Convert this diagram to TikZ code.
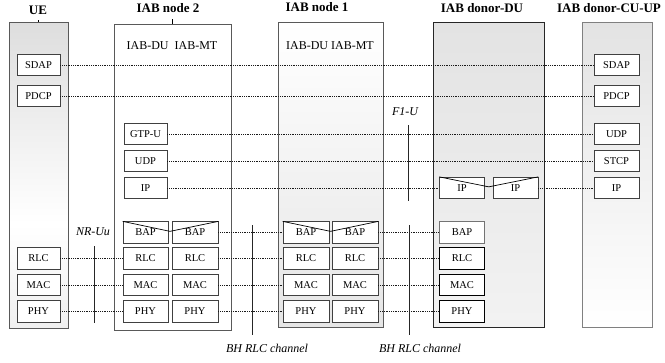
\documentclass[tikz,border=0pt]{standalone}
\usepackage{fontspec}
\setmainfont{Liberation Serif}
\usetikzlibrary{calc}
\pgfdeclareverticalshading{uesh}{100bp}{color(0bp)=(black!6); color(25bp)=(black!6); color(42bp)=(white); color(75bp)=(black!13); color(100bp)=(black!13)}
\begin{document}
\begin{tikzpicture}[x=1pt,y=-1pt,
  cont/.style={draw=black!65, line width=0.8pt, inner sep=0pt},
  blk/.style={draw=black!75, fill=white, line width=0.8pt, minimum height=21.5pt, inner sep=0pt, font=\fontsize{10.5}{12}\selectfont},
  ttl/.style={font=\fontsize{13}{15}\selectfont\bfseries, inner sep=1pt},
  sub/.style={font=\fontsize{12}{14}\selectfont, inner sep=1pt},
  lbl/.style={font=\fontsize{12}{14}\selectfont\itshape, inner sep=1pt},
  dl/.style={line width=0.7pt, black!90, dash pattern=on 1pt off 0.8pt},
  vl/.style={line width=0.7pt, black!85},
  w43/.style={minimum width=43pt},
  w45/.style={minimum width=45pt},
  w46/.style={minimum width=46pt}]
\useasboundingbox (0,0) rectangle (665,362);

% containers
\node[cont, shading=uesh, minimum width=59pt, minimum height=306pt] (ue) at (38.5,175) {};
\node[cont, fill=white, minimum width=117pt, minimum height=306pt] (n2) at (172.5,177) {};
\node[cont, top color=white, bottom color=black!10, minimum width=105pt, minimum height=305pt] (n1) at (330.5,174.5) {};
\node[cont, draw=black!85, top color=black!11, bottom color=black!5, minimum width=111pt, minimum height=305pt] (du) at (488.5,174.5) {};
\node[cont, draw=black!50, top color=black!11, bottom color=white, minimum width=70pt, minimum height=305pt] (cu) at (617,174.5) {};

% titles
\node[ttl] (t-ue) at (38,10) {UE};
\node[ttl] (t-n2) at (168,8) {IAB node 2};
\node[ttl] (t-n1) at (317,7) {IAB node 1};
\node[ttl] (t-du) at (482,8) {IAB donor-DU};
\node[ttl] (t-cu) at (609,8) {IAB donor-CU-UP};
\draw[line width=0.6pt] (n2.north) -- ++(0,-5);
\draw[line width=0.6pt] (ue.north) -- ++(0,-2);

\node[sub] (s-n2) at (172,46) {IAB-DU\ \ IAB-MT};
\node[sub] (s-n1) at (330,46) {IAB-DU IAB-MT};

% UE boxes
\node[blk, w43] (ue-sdap) at (38.5,65) {SDAP};
\node[blk, w43] (ue-pdcp) at (38.5,96) {PDCP};
\node[blk, w43] (ue-rlc) at (38.5,258.5) {RLC};
\node[blk, w43] (ue-mac) at (38.5,285) {MAC};
\node[blk, w43] (ue-phy) at (38.5,311.5) {PHY};

% IAB node 2 boxes
\node[blk, w43] (n2-gtp) at (145.5,134) {GTP-U};
\node[blk, w43] (n2-udp) at (145.5,161) {UDP};
\node[blk, w43] (n2-ip) at (145.5,188) {IP};
\node[blk, w45] (n2-bapL) at (145.5,232.5) {BAP};
\node[blk, w46] (n2-bapR) at (195,232.5) {BAP};
\node[blk, w45] (n2-rlcL) at (145.5,258.5) {RLC};
\node[blk, w46] (n2-rlcR) at (195,258.5) {RLC};
\node[blk, w45] (n2-macL) at (145.5,285) {MAC};
\node[blk, w46] (n2-macR) at (195,285) {MAC};
\node[blk, w45] (n2-phyL) at (145.5,311.5) {PHY};
\node[blk, w46] (n2-phyR) at (195,311.5) {PHY};

% IAB node 1 boxes
\node[blk, w46] (n1-bapL) at (306,232.5) {BAP};
\node[blk, w46] (n1-bapR) at (355,232.5) {BAP};
\node[blk, w46] (n1-rlcL) at (306,258.5) {RLC};
\node[blk, w46] (n1-rlcR) at (355,258.5) {RLC};
\node[blk, w46] (n1-macL) at (306,285) {MAC};
\node[blk, w46] (n1-macR) at (355,285) {MAC};
\node[blk, w46] (n1-phyL) at (306,311.5) {PHY};
\node[blk, w46] (n1-phyR) at (355,311.5) {PHY};

% donor-DU boxes
\node[blk, w45] (du-ipL) at (462,188) {IP};
\node[blk, w45] (du-ipR) at (515.5,188) {IP};
\node[blk, w45, draw=black!55] (du-bap) at (462,232.5) {BAP};
\node[blk, w45, draw=black, line width=1pt] (du-rlc) at (462,258.5) {RLC};
\node[blk, w45, draw=black, line width=1pt] (du-mac) at (462,285) {MAC};
\node[blk, w45, draw=black, line width=1pt] (du-phy) at (462,311.5) {PHY};

% donor-CU-UP boxes
\node[blk, w45] (cu-sdap) at (616.5,65) {SDAP};
\node[blk, w45] (cu-pdcp) at (616.5,96) {PDCP};
\node[blk, w45] (cu-udp) at (616.5,134) {UDP};
\node[blk, w45] (cu-stcp) at (616.5,161) {STCP};
\node[blk, w45] (cu-ip) at (616.5,188) {IP};

% V lines over paired boxes
\draw[line width=0.7pt] (n2-bapL.north west) -- ($(n2-bapL.north east)!0.5!(n2-bapR.north west)+(0,10)$) -- (n2-bapR.north east);
\draw[line width=0.7pt] (n1-bapL.north west) -- ($(n1-bapL.north east)!0.5!(n1-bapR.north west)+(0,10)$) -- (n1-bapR.north east);
\draw[line width=0.7pt] (du-ipL.north west) -- ($(du-ipL.north east)!0.5!(du-ipR.north west)+(0,10)$) -- (du-ipR.north east);

% dotted peer lines
\draw[dl] (ue-sdap.east) -- (cu-sdap.west);
\draw[dl] (ue-pdcp.east) -- (cu-pdcp.west);
\draw[dl] (n2-gtp.east) -- (cu-udp.west);
\draw[dl] (n2-udp.east) -- (cu-stcp.west);
\draw[dl] (n2-ip.east) -- (du-ipL.west);
\draw[dl] (du-ipR.east) -- (cu-ip.west);
\draw[dl] (n2-bapR.east) -- (n1-bapL.west);
\draw[dl] (n1-bapR.east) -- (du-bap.west);
\draw[dl] (ue-rlc.east) -- (n2-rlcL.west);
\draw[dl] (n2-rlcR.east) -- (n1-rlcL.west);
\draw[dl] (n1-rlcR.east) -- (du-rlc.west);
\draw[dl] (ue-mac.east) -- (n2-macL.west);
\draw[dl] (n2-macR.east) -- (n1-macL.west);
\draw[dl] (n1-macR.east) -- (du-mac.west);
\draw[dl] (ue-phy.east) -- (n2-phyL.west);
\draw[dl] (n2-phyR.east) -- (n1-phyL.west);
\draw[dl] (n1-phyR.east) -- (du-phy.west);

% interface labels and markers
\node[lbl] (l-nruu) at (93,232) {NR-Uu};
\coordinate (nruu-a) at (94,246);
\coordinate (nruu-b) at (94,323);
\draw[vl] (nruu-a) -- (nruu-b);

\node[lbl] (l-f1u) at (405,112) {F1-U};
\coordinate (f1u-a) at (408,125);
\coordinate (f1u-b) at (408,201);
\draw[vl] (f1u-a) -- (f1u-b);

\coordinate (bh1-a) at (252,225);
\coordinate (bh1-b) at (252,335);
\draw[vl] (bh1-a) -- (bh1-b);
\node[lbl] (l-bh1) at (267,348) {BH RLC channel};

\coordinate (bh2-a) at (409,225);
\coordinate (bh2-b) at (409,335);
\draw[vl] (bh2-a) -- (bh2-b);
\node[lbl] (l-bh2) at (420,348) {BH RLC channel};
\end{tikzpicture}
\end{document}
